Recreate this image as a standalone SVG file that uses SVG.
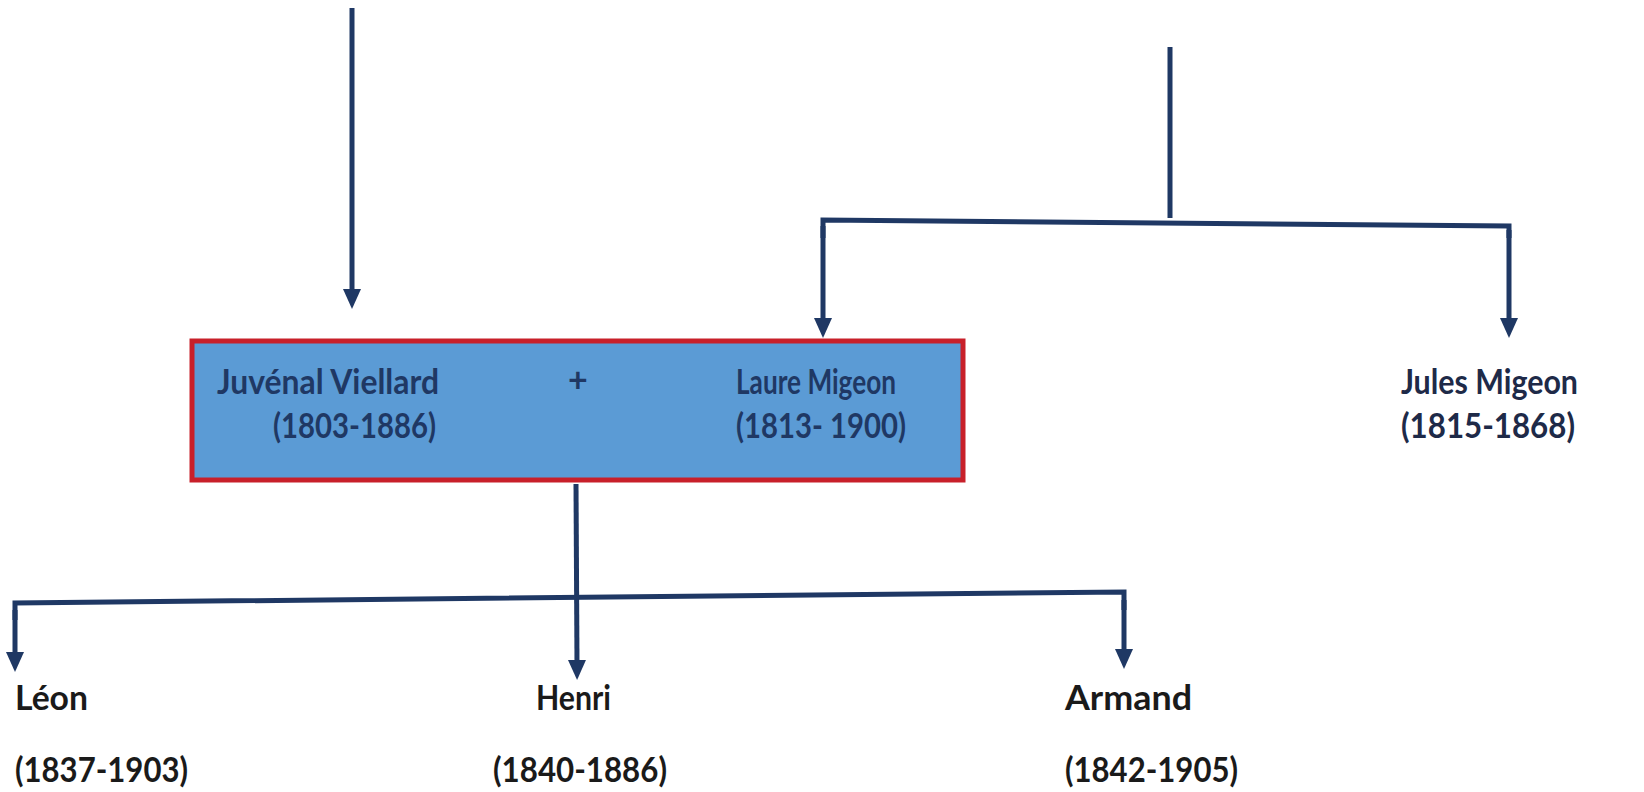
<svg xmlns="http://www.w3.org/2000/svg" width="1644" height="792" viewBox="0 0 1644 792">
<style>
.ln{stroke:#1f3864;stroke-width:5;fill:none}
.ar{stroke:#1f3864;stroke-width:5;fill:none;marker-end:url(#ah)}
.t{font-family:Lato,"Open Sans",sans-serif;font-weight:bold;font-size:34px}
.bx{fill:#1f3864}
.bk{fill:#1a1a1a}
.jm{fill:#1e2a48}
</style>
<defs>
<marker id="ah" markerUnits="userSpaceOnUse" markerWidth="20" markerHeight="18" refX="4" refY="9" orient="auto" viewBox="0 0 20 18">
<path d="M0,0 L20,9 L0,18 Z" fill="#1f3864"/>
</marker>
</defs>
<rect width="1644" height="792" fill="#ffffff"/>
<g id="connectors">
<line class="ar" x1="352" y1="8" x2="352" y2="293"/>
<line class="ln" x1="1170" y1="47" x2="1170" y2="218"/>
<polyline class="ln" points="823,238 823,220 1509,226 1509,238"/>
<line class="ar" x1="823" y1="226" x2="823" y2="322"/>
<line class="ar" x1="1509" y1="230" x2="1509" y2="322"/>
<line class="ar" x1="576" y1="484" x2="577" y2="664"/>
<polyline class="ln" points="15,620 15,603 1124,592 1124,610"/>
<line class="ar" x1="15" y1="610" x2="15" y2="656"/>
<line class="ar" x1="1124" y1="600" x2="1124" y2="653"/>
</g>
<g id="couple">
<rect x="192" y="341" width="771" height="139" fill="#5b9bd5" stroke="#c8202a" stroke-width="5"/>
<text class="t bx" x="217" y="394" textLength="222" lengthAdjust="spacingAndGlyphs">Juvénal Viellard</text>
<text class="t bx" x="273" y="438" textLength="163" lengthAdjust="spacingAndGlyphs">(1803-1886)</text>
<text class="t bx" x="568" y="392">+</text>
<text class="t bx" x="736" y="394" textLength="160" lengthAdjust="spacingAndGlyphs">Laure Migeon</text>
<text class="t bx" x="736" y="438" textLength="170" lengthAdjust="spacingAndGlyphs">(1813- 1900)</text>
</g>
<g id="jules">
<text class="t jm" x="1401" y="394" textLength="177" lengthAdjust="spacingAndGlyphs">Jules Migeon</text>
<text class="t jm" x="1401" y="438" textLength="174" lengthAdjust="spacingAndGlyphs">(1815-1868)</text>
</g>
<g id="leon">
<text class="t bk" x="15" y="710" textLength="73" lengthAdjust="spacingAndGlyphs">Léon</text>
<text class="t bk" x="15" y="782" textLength="173" lengthAdjust="spacingAndGlyphs">(1837-1903)</text>
</g>
<g id="henri">
<text class="t bk" x="536" y="710" textLength="75" lengthAdjust="spacingAndGlyphs">Henri</text>
<text class="t bk" x="493" y="782" textLength="174" lengthAdjust="spacingAndGlyphs">(1840-1886)</text>
</g>
<g id="armand">
<text class="t bk" x="1065" y="710" textLength="127" lengthAdjust="spacingAndGlyphs">Armand</text>
<text class="t bk" x="1065" y="782" textLength="173" lengthAdjust="spacingAndGlyphs">(1842-1905)</text>
</g>
</svg>
